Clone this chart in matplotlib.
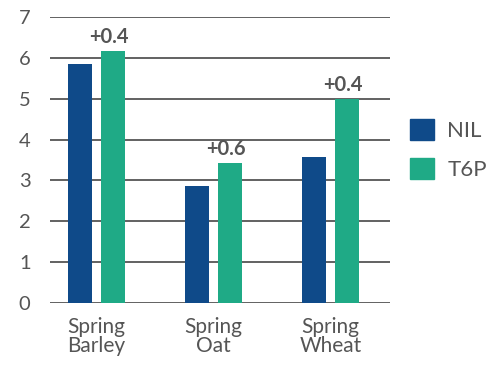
import matplotlib
matplotlib.use("Agg")
import matplotlib.pyplot as plt
import numpy as np
from matplotlib.patches import Patch

categories = ["Spring\nBarley", "Spring\nOat", "Spring\nWheat"]
nil = [5.85, 2.86, 3.57]
t6p = [6.17, 3.43, 5.0]
diff_labels = ["+0.4", "+0.6", "+0.4"]
series_names = ["NIL", "T6P"]

c_nil = "#0F4A89"
c_t6p = "#1FAA86"
gray = "#555555"

plt.rcParams['font.family'] = ['Lato', 'DejaVu Sans']

fig = plt.figure(figsize=(4.97, 3.70), dpi=100)
ax = fig.add_axes([50/497, 1 - 303/370, 340/497, (303-17)/370])

x = np.arange(len(categories))
w = 0.205
off = 0.141
ax.bar(x - off, nil, w, color=c_nil, zorder=3)
ax.bar(x + off, t6p, w, color=c_t6p, zorder=3)

for xi, v, lab in zip(x + off, t6p, diff_labels):
    ax.annotate(lab, (xi, v), xytext=(-3, 3), textcoords="offset points",
                ha="center", va="bottom", fontsize=14.5, fontweight="bold", color=gray)

ax.set_ylim(0, 7)
ax.set_xlim(-0.397, 2.51)
ax.set_yticks(range(0, 8))
ax.yaxis.grid(True, color=gray, linewidth=1.3, zorder=0)
ax.set_axisbelow(True)
for s in ax.spines.values():
    s.set_visible(False)
ax.tick_params(axis="y", length=0, labelsize=14.5, colors=gray, pad=14)
ax.tick_params(axis="x", length=0, labelsize=15, colors=gray, pad=10)
ax.set_xticks(x)
ax.set_xticklabels(categories, linespacing=0.95)

handles = [Patch(color=c_nil), Patch(color=c_t6p)]
fig.legend(handles, series_names, loc="upper left", bbox_to_anchor=(399/497, 1 - 108/370),
           frameon=False, fontsize=16, labelcolor=gray, handlelength=1.08, handleheight=1.08,
           handletextpad=0.6, labelspacing=0.75, borderpad=0)

fig.savefig("out.png", dpi=100)
